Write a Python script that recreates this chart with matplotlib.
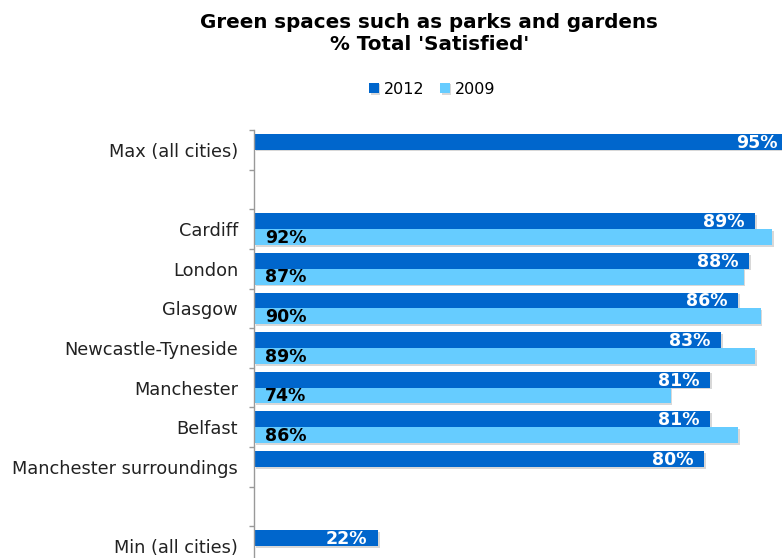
import numpy as np
import matplotlib
matplotlib.use("Agg")
import matplotlib.pyplot as plt
import matplotlib.patheffects as pe
from matplotlib.transforms import offset_copy

# Rows from top to bottom; empty strings are spacer rows
categories = ["Max (all cities)", "", "Cardiff", "London", "Glasgow",
              "Newcastle-Tyneside", "Manchester", "Belfast",
              "Manchester surroundings", "", "Min (all cities)"]
values_2012 = [95, np.nan, 89, 88, 86, 83, 81, 81, 80, np.nan, 22]
values_2009 = [np.nan, np.nan, 92, 87, 90, 89, 74, 86, np.nan, np.nan, np.nan]

color_2012 = "#0066CC"
color_2009 = "#66CCFF"

plt.rcParams['font.family'] = ['DejaVu Sans']

fig = plt.figure(figsize=(7.82, 5.58), dpi=100)
ax = fig.add_axes([254 / 782, -8 / 558, 563 / 782, 436 / 558])

y = np.arange(len(categories))
h = 0.4
shadow = [pe.SimplePatchShadow(offset=(1.2, -1.2), shadow_rgbFace="#aaaaaa", alpha=0.45), pe.Normal()]

bars12 = ax.barh(y - h / 2, values_2012, height=h, color=color_2012, label="2012")
bars09 = ax.barh(y + h / 2, values_2009, height=h, color=color_2009, label="2009")
for b in list(bars12) + list(bars09):
    b.set_path_effects(shadow)

ax.set_xlim(0, 100)
ax.set_ylim(len(categories) - 0.5, -0.5)

# Value labels: 2012 at the bar end (white), 2009 at the bar start (black)
right_tr = offset_copy(ax.transData, fig=fig, x=-11, y=0, units="dots")
left_tr = offset_copy(ax.transData, fig=fig, x=11, y=0, units="dots")
for yi, v in zip(y, values_2012):
    if not np.isnan(v):
        ax.text(v, yi - h / 2 + 0.02, f"{v:.0f}%", transform=right_tr, ha="right", va="center",
                color="white", fontsize=12.5, fontweight="bold")
for yi, v in zip(y, values_2009):
    if not np.isnan(v):
        ax.text(0, yi + h / 2 + 0.02, f"{v:.0f}%", transform=left_tr, ha="left", va="center",
                color="black", fontsize=12.5, fontweight="bold")

# Axis styling
ax.set_yticks(y)
ax.set_yticklabels(categories, fontsize=12.8, color="#222222")
ax.set_yticks(np.arange(len(categories) + 1) - 0.5, minor=True)
ax.tick_params(axis="y", which="major", length=0, pad=11.5)
ax.tick_params(axis="y", which="minor", length=3.5, color="#999999", width=1)
ax.set_xticks([])
for s in ["top", "right", "bottom"]:
    ax.spines[s].set_visible(False)
ax.spines["left"].set_color("#999999")
ax.spines["left"].set_linewidth(1)

fig.text(0.549, 1 - 34 / 558, "Green spaces such as parks and gardens\n% Total 'Satisfied'",
         ha="center", va="center", fontsize=14.3, fontweight="bold", linespacing=1.2)

fig.legend(handles=[bars12, bars09], labels=["2012", "2009"], loc="center",
           bbox_to_anchor=(432 / 782, 1 - 89 / 558), ncol=2, frameon=False,
           fontsize=11.5, handlelength=0.6, handleheight=0.6, handletextpad=0.3,
           columnspacing=1.0)

fig.savefig("out.png", dpi=100)
